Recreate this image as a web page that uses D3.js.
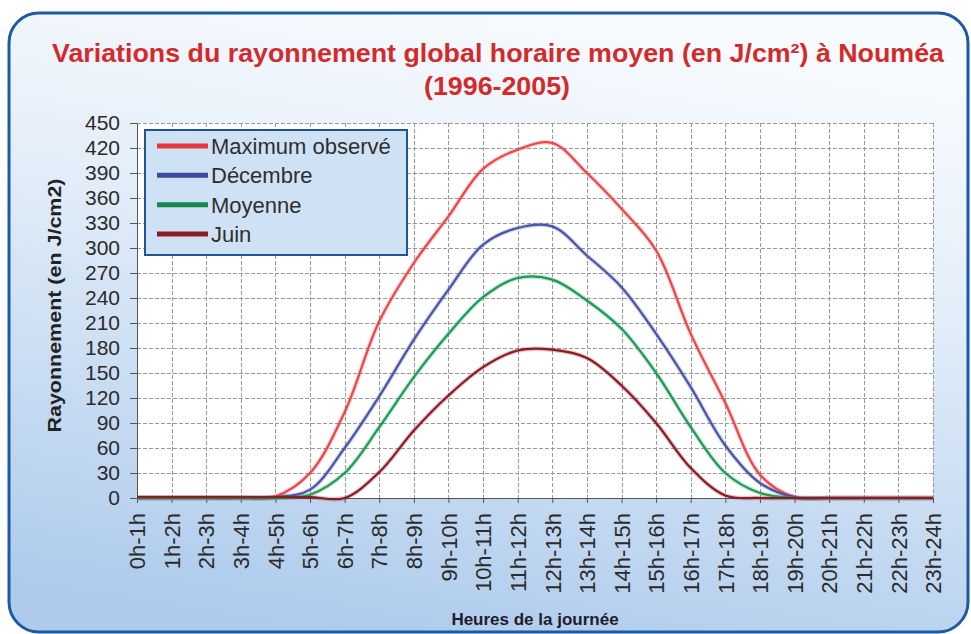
<!DOCTYPE html>
<html lang="fr">
<head>
<meta charset="utf-8">
<title>Rayonnement global horaire moyen à Nouméa</title>
<script src="https://cdn.jsdelivr.net/npm/d3@7"></script>
<style>
  html, body { margin: 0; padding: 0; background: #ffffff; }
  svg { display: block; font-family: "Liberation Sans", Arial, sans-serif; }
</style>
</head>
<body>
<svg id="chart" width="971" height="634"></svg>
<script>
// Hourly slots of the day
const categories = [
  "0h-1h", "1h-2h", "2h-3h", "3h-4h", "4h-5h", "5h-6h", "6h-7h", "7h-8h",
  "8h-9h", "9h-10h", "10h-11h", "11h-12h", "12h-13h", "13h-14h", "14h-15h", "15h-16h",
  "16h-17h", "17h-18h", "18h-19h", "19h-20h", "20h-21h", "21h-22h", "22h-23h", "23h-24h"
];

// Mean hourly global radiation (J/cm²)
const maximumObserve = [0, 0, 0, 0, 2, 30, 103, 212, 282, 338, 395, 418, 426, 390, 347, 297, 197, 114, 28, 1, 0, 0, 0, 0];
const decembre       = [0, 0, 0, 0, 1, 10, 60, 122, 190, 250, 304, 324, 326, 291, 253, 197, 133, 63, 18, 1, 0, 0, 0, 0];
const moyenne        = [0, 0, 0, 0, 0, 4, 30, 85, 145, 197, 241, 264, 262, 237, 203, 150, 85, 30, 6, 0, 0, 0, 0, 0];
const juin           = [1, 1, 1, 1, 1, 1, 0, 31, 81, 123, 157, 177, 178, 168, 135, 90, 36, 3, 0, 0, 0, 0, 0, 0];

const seriesNames = ["Maximum observé", "Décembre", "Moyenne", "Juin"];
const yTicks = [0, 30, 60, 90, 120, 150, 180, 210, 240, 270, 300, 330, 360, 390, 420, 450];

const series = [
  { name: seriesNames[0], values: maximumObserve, color: "#e8474c", swatch: "#e8383f" },
  { name: seriesNames[1], values: decembre,       color: "#4a55a6", swatch: "#3c4c9e" },
  { name: seriesNames[2], values: moyenne,        color: "#1e9a57", swatch: "#15894e" },
  { name: seriesNames[3], values: juin,           color: "#8a1c24", swatch: "#8b1a24" }
];

const svg = d3.select("#chart");
const plot = { left: 137, right: 933, top: 123, bottom: 498 };

// ---- panel background ----
const defs = svg.append("defs");
const bg = defs.append("linearGradient")
  .attr("id", "panelFill").attr("x1", "0.6").attr("y1", "0").attr("x2", "0.35").attr("y2", "1");
bg.append("stop").attr("offset", "0").attr("stop-color", "#f8fbfe");
bg.append("stop").attr("offset", "0.35").attr("stop-color", "#e4eef9");
bg.append("stop").attr("offset", "0.75").attr("stop-color", "#c3d9f1");
bg.append("stop").attr("offset", "1").attr("stop-color", "#aecbec");

const shadow = defs.append("filter").attr("id", "soft").attr("x", "-5%").attr("y", "-5%").attr("width", "110%").attr("height", "110%");
shadow.append("feGaussianBlur").attr("stdDeviation", 0.6);

svg.append("rect")
  .attr("x", 9).attr("y", 13).attr("width", 959).attr("height", 619)
  .attr("rx", 30).attr("ry", 30)
  .attr("fill", "url(#panelFill)")
  .attr("stroke", "#1c5aa5").attr("stroke-width", 3)
  .attr("filter", "url(#soft)");

// ---- title ----
const title = svg.append("g")
  .attr("fill", "#d32a2c").attr("font-weight", "bold").attr("text-anchor", "middle");
title.append("text")
  .attr("x", 498).attr("y", 62).attr("font-size", 26)
  .attr("textLength", 892).attr("lengthAdjust", "spacingAndGlyphs")
  .text("Variations du rayonnement global horaire moyen (en J/cm²) à Nouméa");
title.append("text")
  .attr("x", 497).attr("y", 95).attr("font-size", 26)
  .attr("textLength", 146).attr("lengthAdjust", "spacingAndGlyphs")
  .text("(1996-2005)");

// ---- scales ----
const x = d3.scalePoint().domain(categories).range([plot.left, plot.right]);
const y = d3.scaleLinear().domain([0, 450]).range([plot.bottom, plot.top]);

// plot area
svg.append("rect")
  .attr("x", plot.left).attr("y", plot.top)
  .attr("width", plot.right - plot.left).attr("height", plot.bottom - plot.top)
  .attr("fill", "#ffffff");

// gridlines
const grid = svg.append("g").attr("stroke", "#9a9a9a").attr("stroke-width", 1).attr("stroke-dasharray", "4,2");
grid.selectAll("line.h").data(yTicks.filter(d => d > 0)).join("line")
  .attr("class", "h")
  .attr("x1", plot.left).attr("x2", plot.right)
  .attr("y1", d => Math.round(y(d)) + 0.5).attr("y2", d => Math.round(y(d)) + 0.5);
grid.selectAll("line.v").data(categories.slice(1)).join("line")
  .attr("class", "v")
  .attr("x1", d => Math.round(x(d)) + 0.5).attr("x2", d => Math.round(x(d)) + 0.5)
  .attr("y1", plot.top).attr("y2", plot.bottom);

// ---- axes ----
const yAxis = svg.append("g")
  .attr("transform", `translate(${plot.left},0)`)
  .call(d3.axisLeft(y).tickValues(yTicks).tickSize(7).tickPadding(10).tickFormat(d3.format("d")));
yAxis.select(".domain").attr("stroke", "#555");
yAxis.selectAll(".tick line").attr("stroke", "#555");
yAxis.selectAll(".tick text")
  .attr("font-size", 21).attr("fill", "#2b2b2b")
  .attr("font-family", "'Liberation Sans', Arial, sans-serif");

const xAxis = svg.append("g")
  .attr("transform", `translate(0,${plot.bottom})`)
  .call(d3.axisBottom(x).tickSize(5).tickSizeOuter(0));
xAxis.select(".domain").attr("stroke", "#555");
xAxis.selectAll(".tick line").attr("stroke", "#555");
xAxis.selectAll(".tick text")
  .attr("font-size", 22).attr("fill", "#2b2b2b")
  .attr("font-family", "'Liberation Sans', Arial, sans-serif")
  .attr("text-anchor", "end")
  .attr("transform", "rotate(-90)")
  .attr("x", -15).attr("y", 0).attr("dy", "0.35em");

// axis titles
svg.append("text")
  .attr("transform", `translate(61,${(178 + 433) / 2}) rotate(-90)`)
  .attr("text-anchor", "middle")
  .attr("font-size", 19).attr("font-weight", "bold").attr("fill", "#222")
  .attr("textLength", 254).attr("lengthAdjust", "spacingAndGlyphs")
  .text("Rayonnement (en J/cm2)");

svg.append("text")
  .attr("x", 535).attr("y", 625)
  .attr("text-anchor", "middle")
  .attr("font-size", 17).attr("font-weight", "bold").attr("fill", "#1d1d2b")
  .text("Heures de la journée");

// ---- series lines ----
const line = d3.line()
  .x((d, i) => x(categories[i]))
  .y(d => y(d))
  .curve(d3.curveCatmullRom.alpha(0.5));

const lines = svg.append("g").attr("fill", "none");
// light halo under each curve
lines.selectAll("path.halo").data(series).join("path")
  .attr("class", "halo")
  .attr("d", d => line(d.values))
  .attr("stroke", d => d.color).attr("stroke-opacity", 0.25)
  .attr("stroke-width", 4.5).attr("stroke-linejoin", "round");
lines.selectAll("path.main").data(series).join("path")
  .attr("class", "main")
  .attr("d", d => line(d.values))
  .attr("stroke", d => d.color)
  .attr("stroke-width", 2.2).attr("stroke-linejoin", "round");

// ---- legend ----
const legend = svg.append("g");
legend.append("rect")
  .attr("x", 145).attr("y", 130).attr("width", 262).attr("height", 125)
  .attr("fill", "#cfe2f5").attr("stroke", "#1d5597").attr("stroke-width", 2);

const rowY = d3.scalePoint().domain(seriesNames).range([146, 234]);
const item = legend.selectAll("g.item").data(series).join("g")
  .attr("class", "item")
  .attr("transform", d => `translate(0,${rowY(d.name)})`);
item.append("line")
  .attr("x1", 157).attr("x2", 208).attr("y1", 0).attr("y2", 0)
  .attr("stroke", d => d.swatch).attr("stroke-width", 5);
item.append("text")
  .attr("x", 211).attr("y", 0).attr("dy", "0.36em")
  .attr("font-size", 22).attr("fill", "#2e2e2e")
  .text(d => d.name);
</script>
</body>
</html>
